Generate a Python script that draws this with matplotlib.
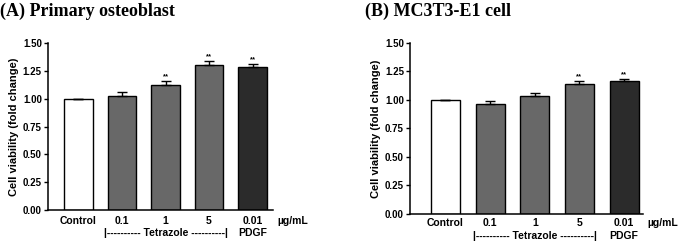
import matplotlib
matplotlib.use("Agg")
import matplotlib.pyplot as plt
from matplotlib.transforms import blended_transform_factory

categories = ["Control", "0.1", "1", "5", "0.01"]
group_labels = ["Tetrazole", "PDGF"]
yticks = [0.00, 0.25, 0.50, 0.75, 1.00, 1.25, 1.50]

a_values = [1.00, 1.027, 1.127, 1.303, 1.285]
a_errors = [0.0, 0.032, 0.032, 0.038, 0.030]
a_sig = ["", "", "**", "**", "**"]

b_values = [1.00, 0.966, 1.036, 1.138, 1.162]
b_errors = [0.0, 0.024, 0.026, 0.026, 0.024]
b_sig = ["", "", "", "**", "**"]

colors = ["#ffffff", "#686868", "#686868", "#686868", "#2b2b2b"]

plt.rcParams['font.family'] = ['Liberation Sans', 'DejaVu Sans']

fig = plt.figure(figsize=(6.86, 2.44), dpi=100)

def panel(rect, xlim, values, errors, sig, title, title_x, row1, row2, unit_x):
    ax = fig.add_axes(rect)
    x = list(range(len(categories)))
    ax.bar(x, values, width=0.65, color=colors, edgecolor="black", linewidth=1.0, zorder=2)
    ax.errorbar(x, values, yerr=[[0]*len(errors), errors], fmt="none", ecolor="black",
                elinewidth=1.0, capsize=3.5, capthick=1.0, zorder=3)
    for xi, v, e, s in zip(x, values, errors, sig):
        if s:
            ax.text(xi, v + e + 0.005, s, ha="center", va="bottom", fontsize=5.5, fontweight="bold")
    ax.set_xlim(*xlim)
    ax.set_ylim(0, 1.5)
    ax.set_yticks(yticks)
    ax.set_yticklabels([f"{t:.2f}" for t in yticks], fontsize=7, fontweight="bold")
    ax.set_xticks([])
    ax.tick_params(axis="y", length=3, width=1.0, pad=1.5)
    for sp in ["top", "right"]:
        ax.spines[sp].set_visible(False)
    for sp in ["left", "bottom"]:
        ax.spines[sp].set_linewidth(1.1)
    ax.set_ylabel("Cell viability (fold change)", fontsize=8, fontweight="bold", labelpad=3)
    tr = blended_transform_factory(ax.transData, ax.transAxes)
    kw = dict(xycoords=tr, textcoords="offset pixels", va="center", fontsize=7.5,
              fontweight="bold", annotation_clip=False)
    for xi, lab in zip(x, categories):
        ax.annotate(lab, (xi, 0), xytext=(0, -row1), ha="center", **kw)
    ax.annotate(unit_label, (unit_x, 0), xytext=(0, -row1), ha="left", **kw)
    ax.annotate("|---------- " + group_labels[0] + " ----------|", (2, 0),
                xytext=(0, -row2), ha="center", **kw)
    ax.annotate(group_labels[1], (4, 0), xytext=(0, -row2), ha="center", **kw)
    fig.text(title_x, 0.955, title, ha="left", va="center", fontsize=13,
             fontweight="bold", family=["Liberation Serif", "DejaVu Serif"])
    return ax

unit_label = "\u00b5g/mL"

panel([0.070, 0.139, 0.328, 0.685], (-0.70, 4.47), a_values, a_errors, a_sig,
      "(A) Primary osteoblast", 0.0, 11, 23, 4.56)
panel([0.598, 0.123, 0.339, 0.701], (-0.79, 4.42), b_values, b_errors, b_sig,
      "(B) MC3T3-E1 cell", 0.532, 9, 22, 4.53)

fig.savefig("out.png", dpi=100)
